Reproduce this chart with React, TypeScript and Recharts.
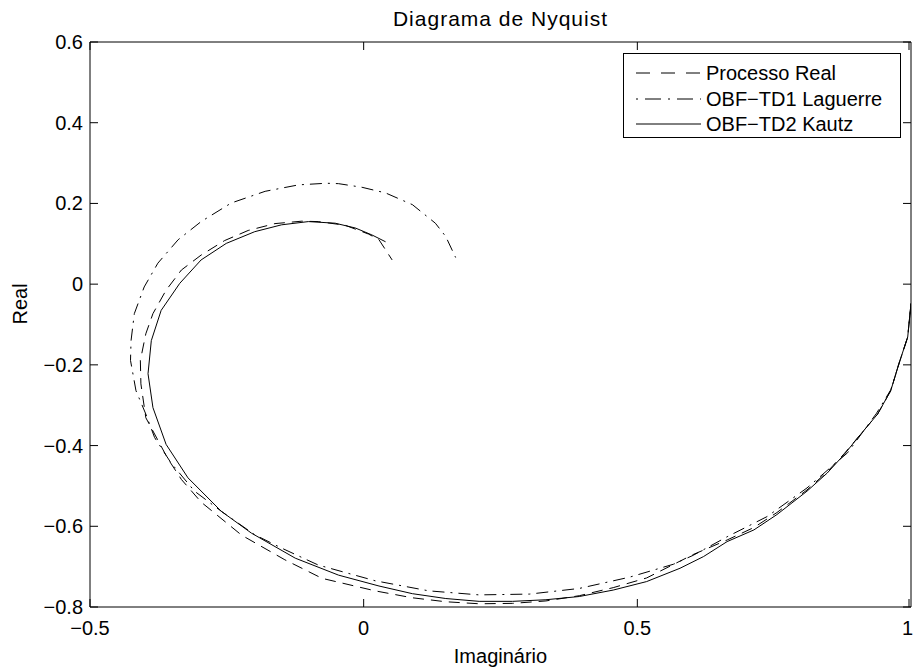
import React from 'react';
import { LineChart, Line, XAxis, YAxis, ReferenceArea } from 'recharts';

// Nyquist curves, points in frequency order (start at w=0 on the right)
const processoReal = [
  { x: 1.0, y: -0.048 }, { x: 0.994, y: -0.131 }, { x: 0.978, y: -0.197 }, { x: 0.963, y: -0.264 },
  { x: 0.939, y: -0.322 }, { x: 0.908, y: -0.372 }, { x: 0.878, y: -0.42 }, { x: 0.847, y: -0.465 },
  { x: 0.81, y: -0.51 }, { x: 0.755, y: -0.566 }, { x: 0.713, y: -0.603 }, { x: 0.664, y: -0.634 },
  { x: 0.602, y: -0.67 }, { x: 0.517, y: -0.728 }, { x: 0.456, y: -0.752 }, { x: 0.394, y: -0.772 },
  { x: 0.333, y: -0.785 }, { x: 0.272, y: -0.791 }, { x: 0.211, y: -0.792 }, { x: 0.15, y: -0.787 },
  { x: 0.088, y: -0.777 }, { x: 0.021, y: -0.76 }, { x: -0.076, y: -0.729 }, { x: -0.144, y: -0.683 },
  { x: -0.223, y: -0.622 }, { x: -0.297, y: -0.54 }, { x: -0.333, y: -0.484 }, { x: -0.358, y: -0.432 },
  { x: -0.398, y: -0.331 }, { x: -0.407, y: -0.247 }, { x: -0.408, y: -0.189 }, { x: -0.398, y: -0.123 },
  { x: -0.385, y: -0.073 }, { x: -0.361, y: -0.015 }, { x: -0.333, y: 0.035 }, { x: -0.297, y: 0.072 },
  { x: -0.254, y: 0.108 }, { x: -0.211, y: 0.133 }, { x: -0.162, y: 0.15 }, { x: -0.113, y: 0.156 },
  { x: -0.083, y: 0.155 }, { x: -0.034, y: 0.146 }, { x: 0.009, y: 0.124 }, { x: 0.028, y: 0.11 },
  { x: 0.052, y: 0.06 },
];

const obfLaguerre = [
  { x: 1.0, y: -0.048 }, { x: 0.994, y: -0.131 }, { x: 0.978, y: -0.197 }, { x: 0.963, y: -0.262 },
  { x: 0.937, y: -0.32 }, { x: 0.884, y: -0.418 }, { x: 0.81, y: -0.505 }, { x: 0.737, y: -0.576 },
  { x: 0.664, y: -0.626 }, { x: 0.602, y: -0.672 }, { x: 0.566, y: -0.694 }, { x: 0.486, y: -0.726 },
  { x: 0.394, y: -0.754 }, { x: 0.303, y: -0.768 }, { x: 0.211, y: -0.77 }, { x: 0.119, y: -0.76 },
  { x: 0.021, y: -0.735 }, { x: -0.083, y: -0.696 }, { x: -0.15, y: -0.654 }, { x: -0.199, y: -0.621 },
  { x: -0.26, y: -0.563 }, { x: -0.309, y: -0.513 }, { x: -0.352, y: -0.443 }, { x: -0.382, y: -0.38 },
  { x: -0.398, y: -0.322 }, { x: -0.416, y: -0.264 }, { x: -0.426, y: -0.189 }, { x: -0.425, y: -0.14 },
  { x: -0.419, y: -0.073 }, { x: -0.401, y: -0.007 }, { x: -0.376, y: 0.052 }, { x: -0.339, y: 0.11 },
  { x: -0.297, y: 0.155 }, { x: -0.242, y: 0.201 }, { x: -0.18, y: 0.23 }, { x: -0.119, y: 0.246 },
  { x: -0.068, y: 0.25 }, { x: -0.046, y: 0.249 }, { x: -0.003, y: 0.24 }, { x: 0.04, y: 0.226 },
  { x: 0.089, y: 0.197 }, { x: 0.131, y: 0.151 }, { x: 0.15, y: 0.118 }, { x: 0.168, y: 0.066 },
];

const obfKautz = [
  { x: 1.0, y: -0.048 }, { x: 0.994, y: -0.131 }, { x: 0.978, y: -0.197 }, { x: 0.963, y: -0.264 },
  { x: 0.939, y: -0.322 }, { x: 0.908, y: -0.372 }, { x: 0.878, y: -0.422 }, { x: 0.847, y: -0.468 },
  { x: 0.81, y: -0.513 }, { x: 0.755, y: -0.571 }, { x: 0.713, y: -0.609 }, { x: 0.664, y: -0.638 },
  { x: 0.621, y: -0.675 }, { x: 0.578, y: -0.704 }, { x: 0.517, y: -0.737 }, { x: 0.456, y: -0.758 },
  { x: 0.394, y: -0.774 }, { x: 0.333, y: -0.782 }, { x: 0.272, y: -0.786 }, { x: 0.211, y: -0.786 },
  { x: 0.15, y: -0.779 }, { x: 0.089, y: -0.767 }, { x: 0.028, y: -0.748 }, { x: -0.046, y: -0.721 },
  { x: -0.125, y: -0.679 }, { x: -0.205, y: -0.617 }, { x: -0.26, y: -0.563 }, { x: -0.321, y: -0.48 },
  { x: -0.361, y: -0.397 }, { x: -0.385, y: -0.306 }, { x: -0.394, y: -0.222 }, { x: -0.388, y: -0.14 },
  { x: -0.37, y: -0.065 }, { x: -0.336, y: 0.002 }, { x: -0.297, y: 0.06 }, { x: -0.251, y: 0.101 },
  { x: -0.199, y: 0.13 }, { x: -0.15, y: 0.147 }, { x: -0.101, y: 0.155 }, { x: -0.052, y: 0.151 },
  { x: -0.015, y: 0.139 }, { x: 0.015, y: 0.122 }, { x: 0.04, y: 0.105 },
];

const xTicks = [-0.5, 0, 0.5, 1];
const yTicks = [-0.8, -0.6, -0.4, -0.2, 0, 0.2, 0.4, 0.6];

const series = [
  { name: 'Processo Real', data: processoReal, dash: '11 7', legendDash: '14 11' },
  { name: 'OBF\u2212TD1 Laguerre', data: obfLaguerre, dash: '2 6 12 6', legendDash: '2 7 16 7' },
  { name: 'OBF\u2212TD2 Kautz', data: obfKautz, dash: undefined, legendDash: undefined },
];

const W = 913;
const H = 668;
const LEFT = 90;
const RIGHT = 911;
const TOP = 42;
const BOTTOM = 607;
const FONT = '"Liberation Sans", Arial, Helvetica, sans-serif';
const FS = 20;

const fmt = (v: number) => (v < 0 ? '\u2212' + String(-v) : String(v));

const XTick = (props: any) => {
  const { x, payload } = props;
  // the last label sits on the right border, keep it inside the page
  const atEdge = x + 6 > W;
  return (
    <g>
      <line x1={x} x2={x} y1={BOTTOM} y2={BOTTOM - 8} stroke="#000" />
      <line x1={x} x2={x} y1={TOP} y2={TOP + 8} stroke="#000" />
      <text
        x={atEdge ? W : x}
        y={BOTTOM + 28}
        textAnchor={atEdge ? 'end' : 'middle'}
        fontFamily={FONT}
        fontSize={FS}
        fill="#000"
      >
        {fmt(payload.value)}
      </text>
    </g>
  );
};

const YTick = (props: any) => {
  const { y, payload } = props;
  return (
    <g>
      <line x1={LEFT} x2={LEFT + 8} y1={y} y2={y} stroke="#000" />
      <line x1={RIGHT} x2={RIGHT - 8} y1={y} y2={y} stroke="#000" />
      <text x={LEFT - 7} y={y + 7} textAnchor="end" fontFamily={FONT} fontSize={FS} fill="#000">
        {fmt(payload.value)}
      </text>
    </g>
  );
};

const legendRows = [72, 98, 123];

export default function App() {
  return (
    <div style={{ position: 'absolute', left: 0, top: 0, width: W, height: H, background: '#fff' }}>
      <div
        style={{
          position: 'absolute',
          left: LEFT,
          width: RIGHT - LEFT,
          top: 6,
          lineHeight: '26px',
          textAlign: 'center',
          fontFamily: FONT,
          fontSize: 21,
          letterSpacing: 1,
        }}
      >
        Diagrama de Nyquist
      </div>
      <LineChart
        width={W}
        height={H}
        margin={{ top: TOP, right: W - RIGHT, bottom: 0, left: 0 }}
        style={{ position: 'absolute', left: 0, top: 0 }}
      >
        <XAxis
          type="number"
          dataKey="x"
          domain={[-0.5, 1]}
          ticks={xTicks}
          height={H - BOTTOM}
          axisLine={false}
          tickLine={false}
          tick={<XTick />}
          allowDataOverflow
          label={{ value: 'Imaginário', position: 'insideBottom', offset: 5, fontFamily: FONT, fontSize: FS, fill: '#000' }}
        />
        <YAxis
          type="number"
          dataKey="y"
          domain={[-0.8, 0.6]}
          ticks={yTicks}
          width={LEFT}
          axisLine={false}
          tickLine={false}
          tick={<YTick />}
          allowDataOverflow
          label={{ value: 'Real', angle: -90, position: 'insideLeft', offset: 20, fontFamily: FONT, fontSize: FS, fill: '#000' }}
        />
        <ReferenceArea x1={-0.5} x2={1} y1={-0.8} y2={0.6} fill="none" stroke="#000" strokeWidth={1} />
        {series.map((s) => (
          <Line
            key={s.name}
            data={s.data}
            dataKey="y"
            name={s.name}
            type="linear"
            stroke="#000"
            strokeWidth={1}
            strokeDasharray={s.dash}
            dot={false}
            activeDot={false}
            isAnimationActive={false}
          />
        ))}
      </LineChart>
      <div
        style={{
          position: 'absolute',
          left: 623,
          top: 53,
          width: 278,
          height: 85,
          border: '1px solid #000',
          boxSizing: 'border-box',
          background: '#fff',
          fontFamily: FONT,
          fontSize: FS,
        }}
      >
        {series.map((s, i) => (
          <div
            key={s.name}
            style={{
              position: 'absolute',
              left: 0,
              top: legendRows[i] - 53 - 12,
              height: 24,
              lineHeight: '24px',
              display: 'flex',
              alignItems: 'center',
              whiteSpace: 'nowrap',
            }}
          >
            <svg width={82} height={10} style={{ flex: 'none' }}>
              <line x1={12} x2={77} y1={5} y2={5} stroke="#000" strokeDasharray={s.legendDash} />
            </svg>
            <span>{s.name}</span>
          </div>
        ))}
      </div>
    </div>
  );
}
